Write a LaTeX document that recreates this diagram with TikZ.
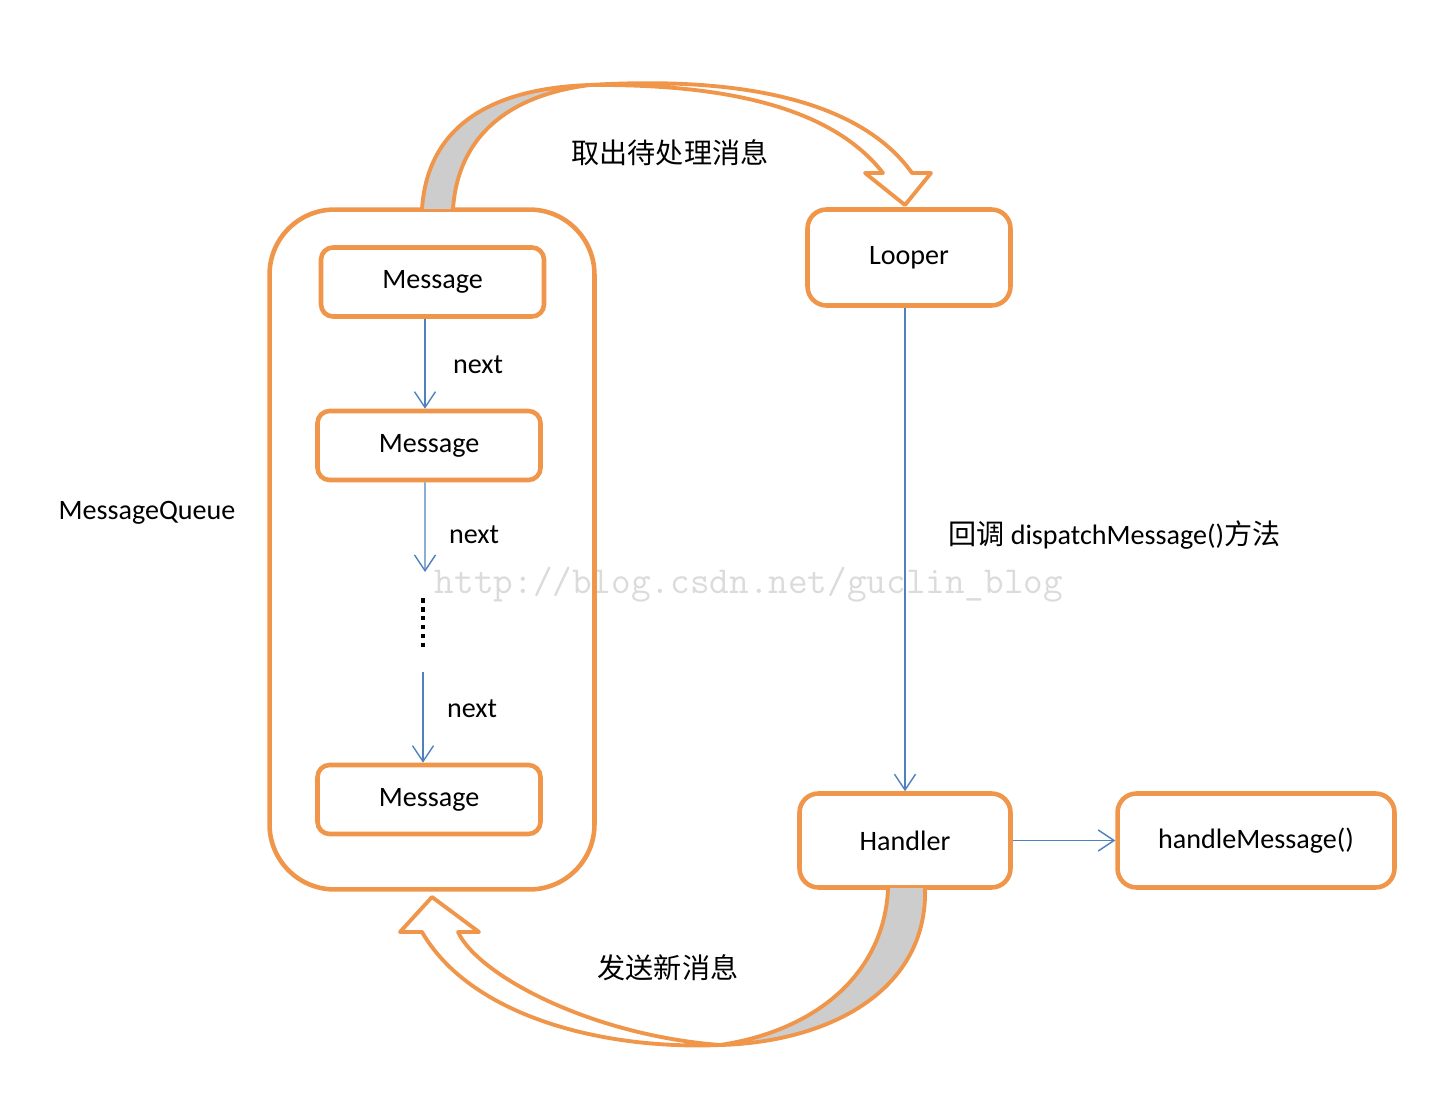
\documentclass[tikz,border=0pt]{standalone}
\usepackage{fontspec}
\setmainfont{Carlito}
\newfontfamily\cjk{Noto Sans CJK SC}
\usetikzlibrary{arrows.meta}
\definecolor{boxorange}{RGB}{240,150,75}
\definecolor{linkblue}{RGB}{79,129,189}
\definecolor{bandgray}{RGB}{205,205,205}
\tikzset{
    msgbox/.style={draw=boxorange, line width=2.6pt, rounded corners=0.24cm,
        minimum width=4.46cm, minimum height=1.38cm, inner sep=0pt},
    rolebox/.style={msgbox, rounded corners=0.38cm, minimum height=1.88cm},
    link/.style={draw=linkblue, line width=0.8pt, -{Straight Barb[length=9pt,width=12pt]}},
    band/.style={draw=boxorange, line width=2.2pt, line join=round},
    cnlabel/.style={font=\cjk\fontsize{16}{20}\selectfont},
}
\begin{document}
\begin{tikzpicture}[x=0.02cm, y=-0.02cm, font=\fontsize{16}{19}\selectfont]
    \useasboundingbox (0,0) rectangle (1456,1104);

    % 水印
    \node[text=black!14, font=\ttfamily\fontsize{21.7}{24}\selectfont] (mark) at (749,585) {http://blog.csdn.net/guclin\_blog};

    % 消息队列
    \node[draw=boxorange, line width=2.6pt, rounded corners=1.3cm,
        minimum width=6.5cm, minimum height=13.6cm] (queue) at (432,549.5) {};
    \node (queuelabel) at (147,513) {MessageQueue};
    \node[msgbox] (msg1) at (432.5,282) {Message};
    \node[msgbox] (msg2) at (429,445.5) {Message};
    \node[msgbox] (msg3) at (429,799.5) {Message};
    \coordinate (gap1) at (425,572);
    \coordinate (gap2) at (423,672);

    % next 指针
    \draw[link] ([xshift=-0.15cm]msg1.south) -- ([xshift=-0.15cm]msg1.south |- msg2.north);
    \draw[link] ([xshift=-0.08cm]msg2.south) -- (gap1);
    \draw[line width=2.6pt, dash pattern=on 2.6pt off 2.5pt] (423,598) -- (423,650);
    \draw[link] (gap2) -- (gap2 |- msg3.north);
    \node (next1) at (478,365) {next};
    \node (next2) at (474,535) {next};
    \node (next3) at (472,709) {next};

    % Looper 与 Handler
    \node[rolebox, minimum width=4.06cm, minimum height=1.92cm] (looper) at (909,257.5) {Looper};
    \node[rolebox, minimum width=4.22cm] (handler) at (905,840.5) {Handler};
    \node[rolebox, minimum width=5.54cm] (handle) at (1256,840.5) {handleMessage()};
    \draw[link] (looper.south -| handler.north) -- (handler.north);
    \draw[link] (handler.east) -- (handle.west);
    \node[anchor=west] (dispatch) at (942,535) {{\cjk 回调} dispatchMessage(){\cjk 方法}};

    % 上方弯箭头
    \fill[bandgray] (422,209) .. controls (428,120) and (500,88) .. (590,85)
        .. controls (510,95) and (458,135) .. (453,209) -- cycle;
    \draw[band] (422,209) .. controls (428,120) and (500,88) .. (590,85)
        .. controls (740,76) and (860,100) .. (912,173) -- (931,173) -- (905,205)
        -- (865,173) -- (883,173) .. controls (830,105) and (720,84) .. (590,85)
        .. controls (510,95) and (458,135) .. (453,209);
    \node[cnlabel] (fetch) at (670,153) {取出待处理消息};

    % 下方弯箭头
    \fill[bandgray] (925,888) .. controls (928,990) and (830,1042) .. (720,1045)
        .. controls (820,1030) and (885,970) .. (888,888) -- cycle;
    \draw[band] (925,888) .. controls (928,990) and (830,1042) .. (720,1045)
        .. controls (600,1050) and (470,1015) .. (422,932) -- (400,932) -- (432,897)
        -- (479,932) -- (458,932) .. controls (478,975) and (590,1035) .. (720,1045)
        .. controls (820,1030) and (885,970) .. (888,888);
    \node[cnlabel] (send) at (668,968) {发送新消息};
\end{tikzpicture}
\end{document}
